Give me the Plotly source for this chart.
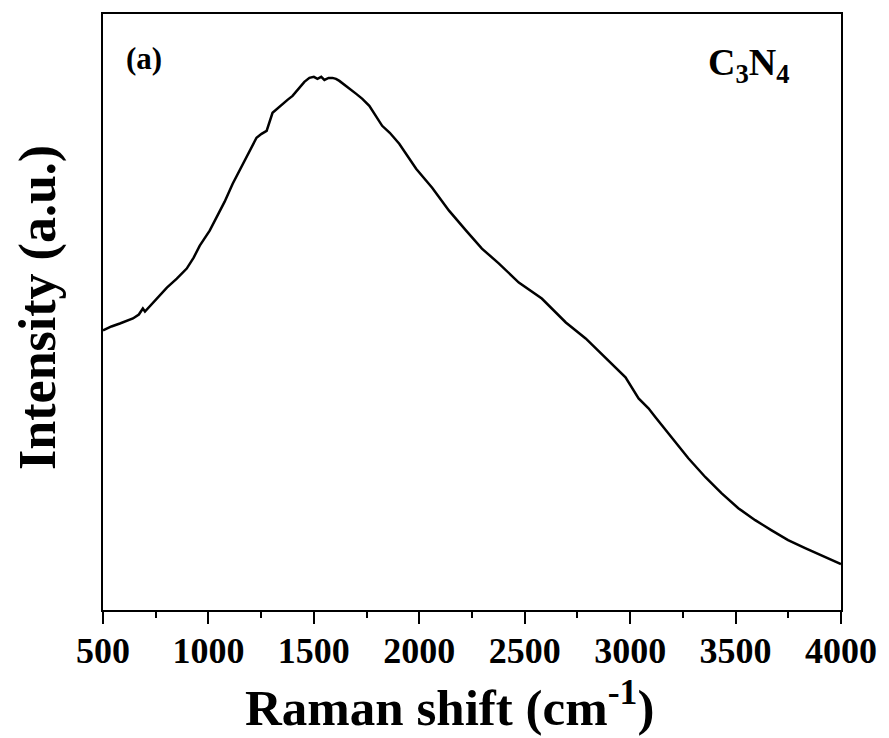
import plotly.graph_objects as go

# Raman shift (cm^-1)
raman_shift = [500, 540, 580, 620, 642, 670, 689, 699, 720, 746, 775, 803, 850, 897, 930,
               959, 1006, 1039, 1077, 1115, 1148, 1181, 1210, 1228, 1252, 1276, 1304,
               1330, 1351, 1375, 1399, 1432, 1455, 1479, 1500, 1517, 1535, 1550, 1570,
               1588, 1605, 1621, 1654, 1701, 1730, 1763, 1824, 1860, 1905, 1985, 2061,
               2141, 2222, 2297, 2378, 2472, 2581, 2695, 2789, 2898, 2978, 3040, 3087,
               3120, 3196, 3276, 3357, 3433, 3513, 3593, 3669, 3749, 3830, 3905, 4000]
# Intensity (a.u.)
intensity = [280, 284, 287, 290, 292, 296, 302, 299, 304, 310, 316, 323, 332, 342, 353,
             365, 380, 393, 409, 427, 440, 453, 465, 473, 477, 480, 498,
             503, 507, 511, 515, 523, 529, 533, 534, 532, 534, 531, 533,
             533, 532, 530, 525, 517, 512, 505, 485, 478, 467, 442, 423,
             400, 380, 362, 347, 328, 312, 288, 272, 250, 233, 212, 202,
             193, 173, 152, 133, 117, 102, 90, 80, 70, 62, 55, 46]

x_ticks = [500, 1000, 1500, 2000, 2500, 3000, 3500, 4000]

FONT = "Times New Roman, Liberation Serif, serif"

fig = go.Figure()
fig.add_trace(go.Scatter(x=raman_shift, y=intensity, mode="lines",
                         line=dict(color="black", width=2.5), showlegend=False))

fig.update_layout(
    width=889, height=738,
    margin=dict(l=103, r=44, t=13, b=128),
    plot_bgcolor="white", paper_bgcolor="white",
    font=dict(family=FONT, color="black"),
    xaxis=dict(range=[500, 4000], tickvals=x_ticks, ticks="outside", ticklen=12,
               tickwidth=2, tickcolor="black", showline=True, linewidth=2,
               linecolor="black", mirror=True, showgrid=False, zeroline=False,
               ticklabelstandoff=-4,
               tickfont=dict(family=FONT, size=36, weight="bold", color="black"),
               minor=dict(dtick=250, tick0=500, ticks="outside", ticklen=6,
                          tickwidth=2, tickcolor="black", showgrid=False)),
    yaxis=dict(range=[0, 597], showticklabels=False, ticks="", showline=True,
               linewidth=2, linecolor="black", mirror=True, showgrid=False,
               zeroline=False),
)

# axis titles
fig.add_annotation(x=0.470, y=-0.157, xref="paper", yref="paper", xanchor="center",
                   yanchor="middle", text="Raman shift (cm<sup>-1</sup>)", showarrow=False,
                   font=dict(family=FONT, size=51, weight="bold", color="black"))
fig.add_annotation(x=-0.088, y=0.507, xref="paper", yref="paper", xanchor="center",
                   yanchor="middle", text="Intensity (a.u.)", showarrow=False, textangle=-90,
                   font=dict(family=FONT, size=52, weight="bold", color="black"))

fig.add_annotation(x=0.028, y=0.925, xref="paper", yref="paper", xanchor="left",
                   yanchor="middle", text="(a)", showarrow=False,
                   font=dict(family=FONT, size=31, weight="bold", color="black"))
fig.add_annotation(x=0.934, y=0.915, xref="paper", yref="paper", xanchor="right",
                   yanchor="middle", text="C<sub>3</sub>N<sub>4</sub>", showarrow=False,
                   font=dict(family=FONT, size=38, weight="bold", color="black"))

fig.write_html("out.html")
